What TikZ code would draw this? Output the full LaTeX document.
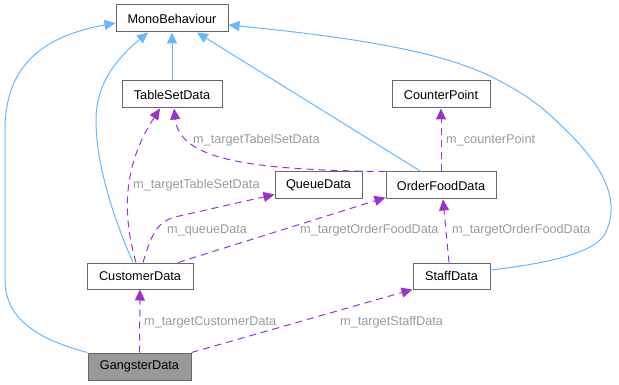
\documentclass[tikz,border=0pt]{standalone}
\usepackage{fontspec}
\setmainfont{Liberation Sans}
\usetikzlibrary{arrows.meta,calc}
\definecolor{inherit}{HTML}{63B8FF}
\definecolor{usage}{HTML}{9A32CD}
\definecolor{lbl}{HTML}{9A9A9A}
\definecolor{border}{HTML}{666666}
\definecolor{focus}{HTML}{999999}
\begin{document}
\begin{tikzpicture}[x=1pt,y=-1pt,
  font=\fontsize{12.7}{14}\selectfont,
  cls/.style={draw=border,line width=1pt,fill=white,rectangle,inner sep=0pt,minimum height=27pt},
  inh/.style={draw=inherit,line width=1pt,-{Triangle[length=11pt,width=10pt,fill=inherit]}},
  use/.style={draw=usage,line width=1pt,dash pattern=on 7pt off 5pt,-{Triangle[length=11pt,width=10pt,fill=usage]}},
  elabel/.style={text=lbl,anchor=west,inner sep=0pt}]
\useasboundingbox (0,0) rectangle (619,385);

% classes
\node[cls,minimum width=112pt] (mono) at (172,18.5) {MonoBehaviour};
\node[cls,minimum width=100pt] (table) at (172,94.5) {TableSetData};
\node[cls,minimum width=98pt] (counter) at (441,94.5) {CounterPoint};
\node[cls,minimum width=87pt] (queue) at (318.5,185.5) {QueueData};
\node[cls,minimum width=110pt] (order) at (441,185.5) {OrderFoodData};
\node[cls,minimum width=77pt,minimum height=26pt] (staff) at (451.5,276) {StaffData};
\node[cls,minimum width=106pt,minimum height=26pt] (cust) at (140,276) {CustomerData};
\node[cls,minimum width=103pt,fill=focus] (gang) at (139.5,366.5) {GangsterData};

% inheritance
\draw[inh] (gang.north west) .. controls (40,340) and (5,320) .. (5,280)
  -- (5,130) .. controls (5,60) and (50,35) .. ($(mono.west)+(0,4.5)$);
\draw[inh] ($(cust.north)+(-7,0)$) .. controls (110,210) and (96,160) .. (96,120)
  .. controls (96,85) and (115,60) .. ($(mono.south)+(-24,0)$);
\draw[inh] (table) -- (mono);
\draw[inh] ($(order.north)+(-20,0)$) -- ($(mono.south)+(25,0)$);
\draw[inh] ($(staff.east)+(0,-6)$) .. controls (560,262) and (598,250) .. (606,232)
  .. controls (622,196) and (600,160) .. (550,115)
  .. controls (530,97) and (510,86) .. (490,76)
  .. controls (440,52) and (360,38) .. ($(mono.east)+(0,6.5)$);

% usage
\draw[use] (order.north west) .. controls (250,170) and (180,160) .. ($(table.south)+(2,0)$);
\draw[use] ($(cust.north)+(-4,0)$) .. controls (124,220) and (120,170) .. ($(table.south)+(-12,0)$);
\draw[use] ($(cust.north)+(3,0)$) .. controls (150,240) and (155,222) .. (175,217) -- ($(queue.west)+(0,9)$);
\draw[use] ($(cust.north)+(38,0)$) -- ($(order.south west)+(0,-2)$);
\draw[use] (order) -- (counter);
\draw[use] ($(staff.north)+(-2.5,0)$) -- ($(order.south)+(2,0)$);
\draw[use] (gang) -- (cust);
\draw[use] (gang.north east) -- (staff.south west);

% labels
\node[elabel] (l1) at (193,140) {m\_targetTabelSetData};
\node[elabel] (l2) at (133,185) {m\_targetTableSetData};
\node[elabel] (l3) at (167,230) {m\_queueData};
\node[elabel] (l4) at (300,230) {m\_targetOrderFoodData};
\node[elabel] (l5) at (446,140) {m\_counterPoint};
\node[elabel] (l6) at (452,230) {m\_targetOrderFoodData};
\node[elabel] (l7) at (144,322) {m\_targetCustomerData};
\node[elabel] (l8) at (340,322) {m\_targetStaffData};
\end{tikzpicture}
\end{document}
